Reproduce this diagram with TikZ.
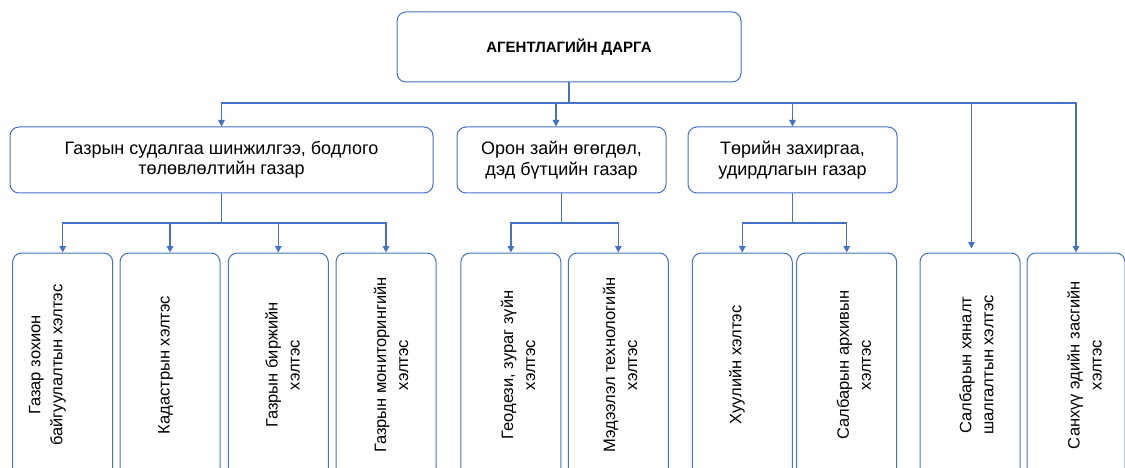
\documentclass[tikz,border=0pt]{standalone}
\usepackage{fontspec}
\setmainfont{Liberation Sans}
\usetikzlibrary{arrows.meta}
\definecolor{lineblue}{HTML}{4472C4}
\tikzset{
  box/.style={draw=lineblue, line width=1pt, rounded corners=9pt, inner sep=0pt, align=center},
  conn/.style={draw=lineblue, line width=1.5pt},
  arr/.style={conn, -{Triangle[length=6.5pt,width=6.5pt]}},
  vtext/.style={rotate=90, align=center, font=\fontsize{16.5}{22}\selectfont, inner sep=0pt},
  htext/.style={font=\fontsize{18}{20.5}\selectfont},
  ttext/.style={font=\bfseries\fontsize{15}{17}\selectfont},
  l3box/.style={box, minimum height=224pt, minimum width=100pt}
}
\begin{document}
\begin{tikzpicture}[x=1pt, y=-1pt]
\useasboundingbox (0,0) rectangle (1125,468);
\fill[white] (0,0) rectangle (1125,468);
\clip (0,0) rectangle (1125,468);

% level 1
\node[box, ttext, minimum width=344pt, minimum height=70pt] (top) at (569,47) {АГЕНТЛАГИЙН ДАРГА};

% level 2
\node[box, htext, minimum width=423pt, minimum height=66pt] (g1) at (221.5,160) {Газрын судалгаа шинжилгээ, бодлого\\төлөвлөлтийн газар};
\node[box, htext, minimum width=209pt, minimum height=66pt] (g2) at (561.5,160) {Орон зайн өгөгдөл,\\дэд бүтцийн газар};
\node[box, htext, minimum width=209pt, minimum height=66pt] (g3) at (792.5,160) {Төрийн захиргаа,\\удирдлагын газар};

% level 3 boxes
\node[l3box] (b1) at (62.7,365) {};
\node[l3box] (b2) at (170,365) {};
\node[l3box] (b3) at (278.3,365) {};
\node[l3box] (b4) at (386,365) {};
\node[l3box] (b5) at (510.9,365) {};
\node[l3box] (b6) at (618.3,365) {};
\node[l3box] (b7) at (742.3,365) {};
\node[l3box] (b8) at (846.7,365) {};
\node[l3box] (b9) at (970,365) {};
\node[l3box, minimum width=98pt] (b10) at (1076,365) {};

% level 3 texts
\node[vtext] (t1) at (47.5,365) {Газар зохион\\байгуулалтын хэлтэс};
\node[vtext] (t2) at (165.7,365) {Кадастрын хэлтэс};
\node[vtext] (t3) at (282.5,365) {Газрын биржийн\\хэлтэс};
\node[vtext] (t4) at (391,365) {Газрын мониторингийн\\хэлтэс};
\node[vtext] (t5) at (518,365) {Геодези, зураг зүйн\\хэлтэс};
\node[vtext] (t6) at (620,365) {Мэдээлэл технологийн\\хэлтэс};
\node[vtext] (t7) at (737,365) {Хуулийн хэлтэс};
\node[vtext] (t8) at (854,365) {Салбарын архивын\\хэлтэс};
\node[vtext] (t9) at (976.5,365) {Салбарын хяналт\\шалгалтын хэлтэс};
\node[vtext] (t10) at (1084.5,365) {Санхүү эдийн засгийн\\хэлтэс};

% connectors from the top
\coordinate (bus) at (569,103);
\draw[conn] (top.south) -- (bus);
\draw[arr] (bus) -| (g1.north);
\draw[arr] (bus) -| ([xshift=-5.5pt]g2.north);
\draw[arr] (bus) -| (g3.north);
\draw[arr] (bus) -| ([xshift=1.5pt,yshift=4pt]b9.north);
\draw[arr] (bus) -| (b10.north);

% connectors from level 2
\coordinate (j1) at (221.5,223);
\coordinate (j2) at (561.5,223);
\coordinate (j3) at (792.5,223);
\draw[conn] (g1.south) -- (j1);
\draw[conn] (g2.south) -- (j2);
\draw[conn] (g3.south) -- (j3);
\draw[arr] (j1) -| (b1.north);
\draw[arr] (j1) -| (b2.north);
\draw[arr] (j1) -| (b3.north);
\draw[arr] (j1) -| (b4.north);
\draw[arr] (j2) -| (b5.north);
\draw[arr] (j2) -| (b6.north);
\draw[arr] (j3) -| (b7.north);
\draw[arr] (j3) -| (b8.north);
\end{tikzpicture}
\end{document}
